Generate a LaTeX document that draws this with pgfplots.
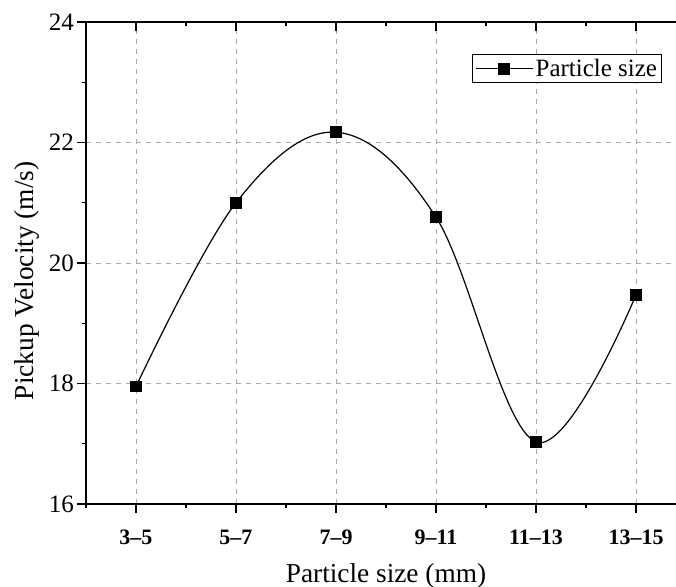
\documentclass[border=0pt]{standalone}
\usepackage{pgfplots}
\pgfplotsset{compat=1.18}
\usepackage{fontspec}
\setmainfont{Liberation Serif}

\definecolor{gridgray}{RGB}{170,170,170}

\begin{document}
\begin{tikzpicture}
\begin{axis}[
  name=main,
  scale only axis,
  width=450pt, height=361.5pt,
  xmin=-0.5, xmax=5.5,
  ymin=16, ymax=24,
  xtick={0,1,2,3,4,5},
  xticklabels={3–5,5–7,7–9,9–11,11–13,13–15},
  minor xtick={-0.5,0.5,1.5,2.5,3.5,4.5},
  ytick={16,18,20,22,24},
  minor ytick={17,19,21,23},
  axis x line*=bottom,
  axis y line*=left,
  axis line style={line width=1pt, -},
  tick align=outside,
  major tick length=6.5pt,
  minor tick length=3.2pt,
  tick style={line width=1pt, black},
  grid=major,
  major grid style={gridgray, dash pattern=on 4pt off 3.5pt, line width=0.7pt},
  /pgf/number format/assume math mode=true,
  xticklabel style={font=\bfseries\fontsize{16.5}{20}\selectfont, yshift=-9.5pt},
  yticklabel style={font=\fontsize{18.75}{22}\selectfont, xshift=1pt},
  xlabel={Particle size (mm)},
  ylabel={Pickup Velocity (m/s)},
  xlabel style={font=\fontsize{20.5}{24}\selectfont, at={(axis description cs:0.5,0)}, anchor=base, yshift=-59.25pt},
  ylabel style={font=\fontsize{20.5}{24}\selectfont, at={(axis description cs:-0.087,0.463)}, anchor=base},
  legend style={at={(0.96,0.934)}, anchor=north east, draw=black, line width=0.7pt,
    font=\fontsize{18.7}{22}\selectfont, inner sep=1.5pt},
  legend image code/.code={\draw[mark repeat=2,mark phase=2,#1] plot coordinates {(0cm,0cm)(0.75cm,0cm)(1.5cm,0cm)};},
]
\addplot[black, line width=0.9pt, smooth, tension=0.6, mark=square*, mark size=4pt,
  mark options={solid}] coordinates {
  (0,17.95) (1,21.00) (2,22.17) (3,20.76) (4,17.03) (5,19.47)
};
\legend{Particle size}
\end{axis}
\begin{axis}[
  scale only axis,
  width=450pt, height=361.5pt,
  xmin=-0.5, xmax=5.5,
  ymin=16, ymax=24,
  xtick={0,1,2,3,4,5},
  minor xtick={-0.5,0.5,1.5,2.5,3.5,4.5},
  xticklabels={},
  axis x line*=top,
  axis y line=none,
  axis line style={line width=1pt, -},
  tick align=inside,
  major tick length=6.5pt,
  minor tick length=3.2pt,
  tick style={line width=1pt, black},
]
\end{axis}
\pgfresetboundingbox
\path[use as bounding box] ([shift={(-64.5pt,-62.25pt)}]main.south west) rectangle ([shift={(-7.5pt,16.5pt)}]main.north east);
\end{tikzpicture}
\end{document}
